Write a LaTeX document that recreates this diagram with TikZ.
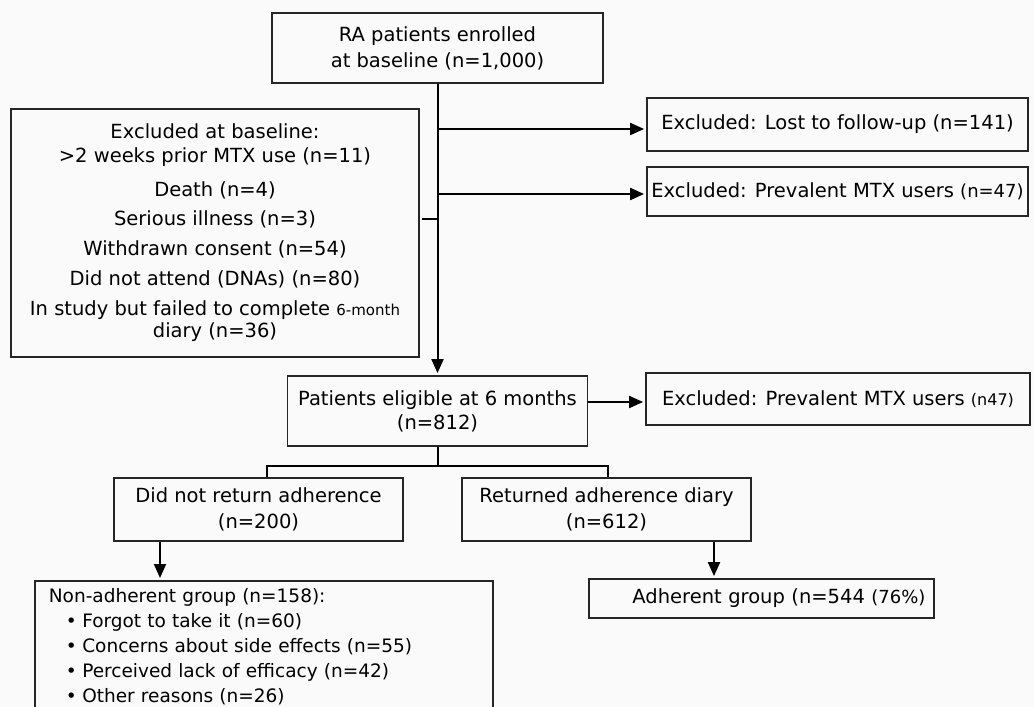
\documentclass[tikz,border=0pt]{standalone}
\usepackage{fontspec}
\setmainfont{DejaVu Sans}
\usetikzlibrary{arrows.meta}

\begin{document}
\begin{tikzpicture}[x=1pt,y=-1pt,->,>={Triangle[length=14pt,width=12pt]},shorten >=2pt,line width=2pt,node distance=2cm,
	block node/.style={rectangle,draw=black!85,line width=1.8pt,align=center,inner sep=0pt,font=\fontsize{19.5}{26}\selectfont},
	side node/.style={block node,minimum width=381pt}]
	\fill[black!2] (0,0) rectangle (1034,707);
	\useasboundingbox (0,0) rectangle (1034,707);
	\node[block node,minimum width=331pt,minimum height=70pt] (1) at (437.5,48) {RA patients enrolled\\at baseline (n=1,000)};
	\node[block node,minimum width=408pt,minimum height=248pt,font=\fontsize{19.5}{22}\selectfont] (2) at (215,233) {Excluded at baseline:\\[2pt]
		>2 weeks prior MTX use (n=11)\\[12pt]
		Death (n=4)\\[7pt]
		Serious illness (n=3)\\[8pt]
		Withdrawn consent (n=54)\\[8pt]
		Did not attend (DNAs) (n=80)\\[8pt]
		In study but failed to complete {\fontsize{15}{22}\selectfont 6-month}\\
		diary (n=36)};
	\node[side node,minimum height=53pt] (3) at (837.5,124.5) {Excluded: Lost to follow-up (n=141)};
	\node[side node,minimum height=49pt] (4) [below of=3,node distance=67pt] {Excluded: Prevalent MTX users {\fontsize{18}{26}\selectfont(n=47)}};
	\node[block node,minimum width=300pt,minimum height=70pt,font=\fontsize{19.5}{24}\selectfont] (5) [below of=1,node distance=363pt] {Patients eligible at 6 months\\(n=812)};
	\node[block node,minimum width=384pt,minimum height=52pt] (6) at (838,399) {Excluded: Prevalent MTX users {\fontsize{16}{26}\selectfont(n47)}};
	\node[block node,minimum width=289pt,minimum height=63pt] (7) at (258.5,509.5) {Did not return adherence\\(n=200)};
	\node[block node,minimum width=289pt,minimum height=63pt] (8) [right of=7,node distance=348pt] {Returned adherence diary\\(n=612)};
	\node[block node,anchor=north west,align=left,text width=430pt,inner xsep=14pt,inner ysep=8pt,font=\fontsize{18.5}{25}\selectfont] (9) at (34,580) {Non-adherent group (n=158):\\
		\hspace*{17pt}\textbullet\hspace{5.5pt}Forgot to take it (n=60)\\
		\hspace*{17pt}\textbullet\hspace{5.5pt}Concerns about side effects (n=55)\\
		\hspace*{17pt}\textbullet\hspace{5.5pt}Perceived lack of efficacy (n=42)\\
		\hspace*{17pt}\textbullet\hspace{5.5pt}Other reasons (n=26)};
	\node[block node,minimum height=39pt,text width=328pt,inner xsep=8.5pt,align=right] (10) at (761.5,598.5) {Adherent group (n=544 {\fontsize{18}{26}\selectfont(76\%)}};

	% trunk and side branches
	\coordinate (a) at (437.5,129);
	\coordinate (b) at (437.5,194);
	\coordinate (c) at (437.5,219);
	\coordinate (e) at (437.5,466);
	\path (1) edge (5);
	\draw (a) -- (a -| 3.west);
	\draw (b) -- (b -| 4.west);
	\draw[-] (c) -- (c -| 2.east);
	\draw ([yshift=9pt]5.east) -- ([yshift=9pt]5.east -| 6.west);

	% split at 6 months
	\draw[-,shorten >=0pt] (5) -- (e);
	\draw[-,shorten >=0pt] (e) -| ([xshift=8.5pt]7.north);
	\draw[-,shorten >=0pt] (e) -| ([xshift=1.5pt]8.north);
	\draw ([xshift=-98.5pt]7.south) -- ([xshift=-98.5pt]7.south |- 9.north);
	\draw ([xshift=107.5pt]8.south) -- ([xshift=107.5pt]8.south |- 10.north);
\end{tikzpicture}
\end{document}
